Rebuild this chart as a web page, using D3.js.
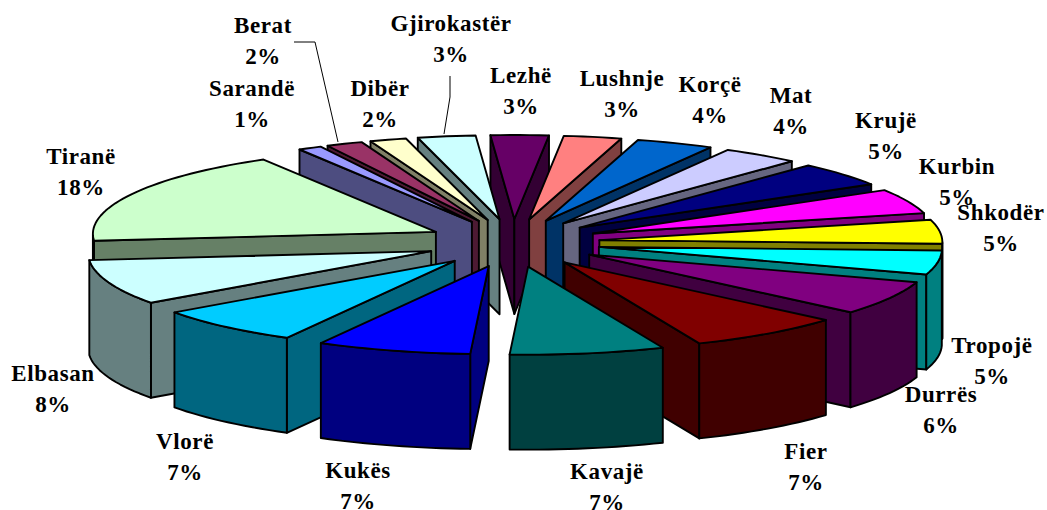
<!DOCTYPE html>
<html>
<head>
<meta charset="utf-8">
<script src="https://cdn.jsdelivr.net/npm/d3@7"></script>
<style>
  html, body { margin: 0; padding: 0; background: #fff; }
  svg { display: block; }
  .label { font-family: "Liberation Serif", serif; font-weight: bold; font-size: 23px; letter-spacing: 0.6px; fill: #000; text-anchor: middle; }
</style>
</head>
<body>
<script>
const districts = ["Lezhë", "Lushnje", "Korçë", "Mat", "Krujë", "Kurbin", "Shkodër", "Tropojë", "Durrës", "Fier",
    "Kavajë", "Kukës", "Vlorë", "Elbasan", "Tiranë", "Sarandë", "Berat", "Dibër", "Gjirokastër"]
const shares = [2.72, 2.72, 3.64, 3.64, 4.56, 4.64, 4.5, 4.5, 6.4, 7.36, 7.28, 7.28, 7.08, 8.49, 17.9, 1.11, 1.72, 1.72, 2.72]
const shareLabels = ["3%", "3%", "4%", "4%", "5%", "5%", "5%", "5%", "6%", "7%", "7%", "7%", "7%", "8%", "18%", "1%", "2%", "2%", "3%"]
const topColors = ["#660066", "#FF8080", "#0066CC", "#CCCCFF", "#000080", "#FF00FF", "#FFFF00", "#00FFFF", "#800080", "#800000",
    "#008080", "#0000FF", "#00CCFF", "#CCFFFF", "#CCFFCC", "#9999FF", "#993366", "#FFFFCC", "#CCFFFF"]

// hand placed label centres, same order as districts
const labelX = [521, 622, 710, 791, 886, 957, 1001, 992, 941, 806, 607, 358, 185, 53, 81, 252, 263, 380, 451]
const labelY = [75, 78, 84, 95, 120, 166, 212, 345, 394, 451, 471, 470, 441, 373, 156, 88, 25, 88, 23]
const labelGap = 31.5

const width = 1047, height = 510
const cx = 513, cy = 243      // pie centre on the page
const rx = 343, ry = 86       // top face ellipse
const rimDrop = 2             // rim sits a little lower than the tips
const explodeX = 87, explodeY = 24
const depth = 95
const startDeg = -4

const svg = d3.select("body").append("svg")
    .attr("width", width)
    .attr("height", height)
    .attr("viewBox", [0, 0, width, height])

const pie = d3.pie()
    .sort(null)
    .value(d => d.share)
    .startAngle(startDeg * Math.PI / 180)
    .endAngle((startDeg + 360) * Math.PI / 180)

const rows = districts.map((name, i) => ({ name, share: shares[i], label: shareLabels[i], color: topColors[i], i }))
const arcs = pie(rows)

const line = d3.line()
const poly = pts => line(pts) + "Z"

function tipOf(a) {
    const m = (a.startAngle + a.endAngle) / 2
    return [cx + explodeX * Math.sin(m), cy - explodeY * Math.cos(m)]
}

function rim(a, t) {
    const tip = tipOf(a)
    return [tip[0] + rx * Math.sin(t), tip[1] + rimDrop - ry * Math.cos(t)]
}

const drop = p => [p[0], p[1] + depth]

function rimPoints(a, t0, t1) {
    const n = Math.max(2, Math.ceil((t1 - t0) / 0.03))
    return d3.range(n + 1).map(k => rim(a, t0 + (t1 - t0) * k / n))
}

// back slices first, front ones paint over them
const order = arcs.slice().sort((a, b) => tipOf(a)[1] - tipOf(b)[1])

const slices = svg.append("g").selectAll("g")
    .data(order)
    .enter().append("g")
    .attr("stroke", "#000")
    .attr("stroke-width", 1.9)
    .attr("stroke-linejoin", "round")

slices.each(function (a) {
    const g = d3.select(this)
    const tip = tipOf(a)
    const side = d3.rgb(a.data.color)
    const dark = d3.rgb(side.r / 2, side.g / 2, side.b / 2).formatHex()

    const wall = t => {
        const p = rim(a, t)
        g.append("path").attr("fill", dark).attr("d", poly([p, tip, drop(tip), drop(p)]))
    }
    if (Math.sin(a.startAngle) < 0) wall(a.startAngle)
    if (Math.sin(a.endAngle) > 0) wall(a.endAngle)

    // outer wall, only the part of the rim facing us (90deg to 270deg)
    const t0 = Math.max(a.startAngle, Math.PI / 2)
    const t1 = Math.min(a.endAngle, 3 * Math.PI / 2)
    if (t1 > t0) {
        const upper = rimPoints(a, t0, t1)
        g.append("path").attr("fill", dark).attr("d", poly(upper.concat(upper.map(drop).reverse())))
    }

    g.append("path")
        .attr("fill", a.data.color)
        .attr("d", poly([tip].concat(rimPoints(a, a.startAngle, a.endAngle))))
})

// leader lines for Berat and Gjirokastër
const leaders = [
    [[294, 42], [315, 42], [338, 142]],
    [[450, 76], [450, 97], [444, 134]]
]
svg.append("g").selectAll("path")
    .data(leaders)
    .enter().append("path")
    .attr("fill", "none")
    .attr("stroke", "#000")
    .attr("stroke-width", 1)
    .attr("d", line)

const labels = svg.append("g").selectAll("g")
    .data(rows)
    .enter().append("g")

labels.append("text")
    .attr("class", "label")
    .attr("x", d => labelX[d.i])
    .attr("y", d => labelY[d.i])
    .attr("dy", "0.33em")
    .text(d => d.name)

labels.append("text")
    .attr("class", "label")
    .attr("x", d => labelX[d.i])
    .attr("y", d => labelY[d.i] + labelGap)
    .attr("dy", "0.33em")
    .text(d => d.label)
</script>
</body>
</html>
